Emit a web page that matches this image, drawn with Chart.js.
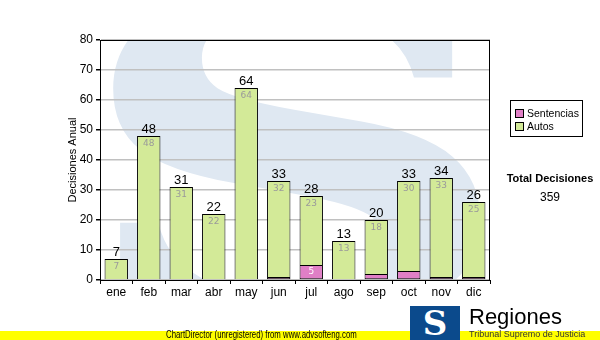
<!DOCTYPE html>
<html>
<head>
<meta charset="utf-8">
<script src="https://cdn.jsdelivr.net/npm/chart.js@4.4.0/dist/chart.umd.min.js"></script>
<style>
  body { margin: 0; background: #fff; font-family: "Liberation Sans", Arial, sans-serif; }
  #wrap { position: relative; width: 600px; height: 340px; overflow: hidden; }
  #grafico { position: absolute; left: 0; top: 0; }
  .leyenda { position: absolute; left: 510px; top: 100px; width: 71px; height: 35px; border: 1px solid #000; background: #fff; font-size: 10.5px; }
  .leyenda div { position: absolute; left: 4px; white-space: nowrap; }
  .leyenda span { display: inline-block; width: 7px; height: 7px; border: 1px solid #000; margin-right: 3px; vertical-align: -1px; }
  .total { position: absolute; left: 500px; top: 172px; width: 100px; text-align: center; font-size: 11px; white-space: nowrap; }
  .aviso { position: absolute; left: 0; top: 331px; width: 600px; height: 9px; background: #ffff00; }
  .aviso div { position: absolute; left: 166px; top: -2px; font-size: 10px; color: #000; white-space: nowrap; transform: scaleX(0.78); transform-origin: left top; }
  .logo { position: absolute; left: 410px; top: 306px; width: 50px; height: 34px; background: #0b4a8c; color: #fff; font: bold 34px "DejaVu Serif", serif; text-align: center; line-height: 34px; overflow: hidden; }
  .regiones { position: absolute; left: 469px; top: 304px; font-size: 22px; color: #000; }
  .tribunal { position: absolute; left: 469px; top: 329px; font-size: 9px; color: #333; white-space: nowrap; }
</style>
</head>
<body>
<div id="wrap">
  <canvas id="grafico" width="600" height="340"></canvas>
  <div class="leyenda">
    <div style="top:6px"><span style="background:#e07fc6"></span>Sentencias</div>
    <div style="top:19px"><span style="background:#d3ea98"></span>Autos</div>
  </div>
  <div class="total"><b>Total Decisiones</b><div style="margin-top:6px;font-size:12px">359</div></div>
  <div class="aviso"><div>ChartDirector (unregistered) from www.advsofteng.com</div></div>
  <div class="logo">S</div>
  <div class="regiones">Regiones</div>
  <div class="tribunal">Tribunal Supremo de Justicia</div>
</div>
<script>
// Données
const meses = ['ene', 'feb', 'mar', 'abr', 'may', 'jun', 'jul', 'ago', 'sep', 'oct', 'nov', 'dic'];
const sentencias = [0, 0, 0, 0, 0, 1, 5, 0, 2, 3, 1, 1];
const autos = [7, 48, 31, 22, 64, 32, 23, 13, 18, 30, 33, 25];
const ejeY = [0, 10, 20, 30, 40, 50, 60, 70, 80];

// Filigrane "S", titre de l'axe Y et cadre du graphique
const fondoPlugin = {
    id: 'fondo',
    beforeDraw(chart) {
        const { ctx, chartArea: a } = chart;
        ctx.save();
        ctx.beginPath();
        ctx.rect(a.left, a.top, a.right - a.left, a.bottom - a.top);
        ctx.clip();
        ctx.fillStyle = '#dfe8f2';
        ctx.font = 'bold 440px "DejaVu Serif"';
        ctx.textAlign = 'center';
        ctx.textBaseline = 'middle';
        ctx.translate((a.left + a.right) / 2, (a.top + a.bottom) / 2 + 40);
        ctx.scale(1.4, 1);
        ctx.fillText('S', 0, 0);
        ctx.restore();

        ctx.save();
        ctx.fillStyle = '#000';
        ctx.font = '11px "Liberation Sans"';
        ctx.textAlign = 'center';
        ctx.textBaseline = 'middle';
        ctx.translate(73, (a.top + a.bottom) / 2);
        ctx.rotate(-Math.PI / 2);
        ctx.fillText('Decisiones Anual', 0, 0);
        ctx.restore();
    },
    afterDraw(chart) {
        const { ctx, chartArea: a } = chart;
        ctx.save();
        ctx.strokeStyle = '#000';
        ctx.lineWidth = 1;
        ctx.strokeRect(a.left + 0.5, a.top + 0.5, a.right - a.left - 1, a.bottom - a.top);
        ctx.restore();
    }
};

// Étiquettes : total au-dessus, valeur des autos dedans, sentencias si assez grand
const etiquetasPlugin = {
    id: 'etiquetas',
    afterDatasetsDraw(chart) {
        const { ctx } = chart;
        const metaS = chart.getDatasetMeta(0);
        const metaA = chart.getDatasetMeta(1);
        ctx.save();
        ctx.textAlign = 'center';
        meses.forEach((m, i) => {
            const barA = metaA.data[i];
            const barS = metaS.data[i];
            ctx.fillStyle = '#000';
            ctx.font = '13px "Liberation Sans"';
            ctx.textBaseline = 'bottom';
            ctx.fillText(String(autos[i] + sentencias[i]), barA.x, barA.y);
            ctx.fillStyle = '#9a9a9a';
            ctx.font = '9px "DejaVu Sans"';
            ctx.textBaseline = 'top';
            ctx.fillText(String(autos[i]), barA.x, barA.y + 3);
            if (sentencias[i] >= 5) {
                ctx.fillStyle = '#fff';
                ctx.textBaseline = 'middle';
                ctx.fillText(String(sentencias[i]), barS.x, (barS.y + barS.base) / 2);
            }
        });
        ctx.restore();
    }
};

new Chart(document.getElementById('grafico'), {
    type: 'bar',
    data: {
        labels: meses,
        datasets: [{
            label: 'Sentencias',
            data: sentencias,
            backgroundColor: '#e07fc6',
            borderColor: '#000',
            borderWidth: 1,
            borderSkipped: false,
            barPercentage: 0.72,
            categoryPercentage: 1
        }, {
            label: 'Autos',
            data: autos,
            backgroundColor: '#d3ea98',
            borderColor: '#000',
            borderWidth: 1,
            borderSkipped: 'bottom',
            barPercentage: 0.72,
            categoryPercentage: 1
        }]
    },
    options: {
        responsive: false,
        animation: false,
        layout: { padding: { left: 0, right: 110, top: 40, bottom: 30 } },
        plugins: { legend: { display: false }, tooltip: { enabled: false } },
        scales: {
            x: {
                stacked: true,
                grid: { display: true, drawOnChartArea: false, tickLength: 4, tickColor: '#000' },
                border: { color: '#000' },
                ticks: { color: '#000', font: { family: 'Liberation Sans', size: 12 }, padding: 1 },
                afterFit(scale) { scale.height = 30; }
            },
            y: {
                stacked: true,
                min: 0,
                max: 80,
                afterBuildTicks(scale) { scale.ticks = ejeY.map(v => ({ value: v })); },
                grid: { color: '#c0c0c0', lineWidth: 1.5, tickLength: 4, tickColor: '#000' },
                border: { color: '#000' },
                ticks: { color: '#000', font: { family: 'Liberation Sans', size: 12 }, padding: 3 },
                afterFit(scale) { scale.width = 100; }
            }
        }
    },
    plugins: [fondoPlugin, etiquetasPlugin]
});
</script>
</body>
</html>
